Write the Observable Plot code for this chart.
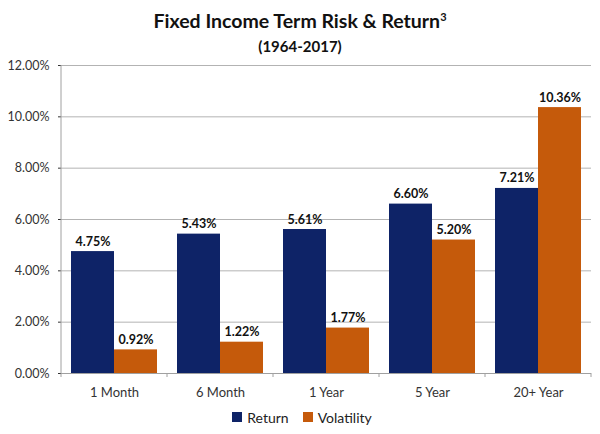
<!DOCTYPE html>
<html>
<head>
<meta charset="utf-8">
<script src="https://cdn.jsdelivr.net/npm/d3@7"></script>
<script src="https://cdn.jsdelivr.net/npm/@observablehq/plot@0.6"></script>
<style>
  body { margin: 0; background: #fff; font-family: Lato, "Open Sans", sans-serif; }
  #wrap { width: 600px; }
  .title { text-align: center; font-weight: bold; font-size: 19.5px; color: #111; padding-top: 7px; line-height: 28px; height: 28px; }
  .title sup { font-size: 11px; vertical-align: 7px; line-height: 0; }
  .subtitle { text-align: center; font-weight: bold; font-size: 15px; color: #111; line-height: 22px; height: 22px; }
  .legend { display: flex; justify-content: center; align-items: center; height: 34px; font-size: 14px; color: #222; padding-left: 4px; }
  .legend .item { display: flex; align-items: center; margin: 0 7px; }
  .legend .sw { width: 10px; height: 10px; margin-right: 5px; }
  svg { display: block; }
</style>
</head>
<body>
<div id="wrap">
  <div class="title">Fixed Income Term Risk &amp; Return<sup>3</sup></div>
  <div class="subtitle">(1964-2017)</div>
  <div id="chart"></div>
  <div class="legend" id="legend"></div>
</div>
<script>
const categories = ["1 Month", "6 Month", "1 Year", "5 Year", "20+ Year"];
const seriesNames = ["Return", "Volatility"];
const returns = [4.75, 5.43, 5.61, 6.60, 7.21];
const volatility = [0.92, 1.22, 1.77, 5.20, 10.36];
const yTicks = [0, 2, 4, 6, 8, 10, 12];
const colors = ["#0e2367", "#c55a0b"];

const data = categories.flatMap((c, i) => [
  {category: c, series: seriesNames[0], value: returns[i]},
  {category: c, series: seriesNames[1], value: volatility[i]}
]);

const fmt = d => d.toFixed(2) + "%";

const chart = Plot.plot({
  width: 600,
  height: 343,
  marginTop: 8,
  marginBottom: 27,
  marginLeft: 60,
  marginRight: 9,
  style: {fontFamily: "Lato, 'Open Sans', sans-serif", fontSize: "12.5px", color: "#333", background: "#fff"},
  fx: {domain: categories, paddingInner: 0, paddingOuter: 0, label: null, tickSize: 0, tickPadding: 14},
  x: {domain: seriesNames, paddingInner: 0, paddingOuter: 0.21, axis: null},
  y: {domain: [0, 12], ticks: yTicks, tickFormat: fmt, tickSize: 3, tickPadding: 9, label: null},
  color: {domain: seriesNames, range: colors},
  marks: [
    Plot.ruleY(yTicks, {stroke: "#b3b3b3", strokeWidth: 1}),
    Plot.barY(data, {fx: "category", x: "series", y: "value", fill: "series"}),
    Plot.ruleY([0], {stroke: "#a0a0a0", strokeWidth: 1}),
    Plot.text(data, {fx: "category", x: "series", y: "value", text: d => fmt(d.value),
      dy: -6, lineAnchor: "bottom", fontWeight: "bold", fontSize: 12.5, fill: "#111"})
  ]
});

// y-axis line and category boundary ticks, drawn from the plot's own scales
const fxS = chart.scale("fx");
const yS = chart.scale("y");
const svg = d3.select(chart);
svg.selectAll("g[aria-label='fx-axis tick label'] text, g[aria-label='fx-axis tick label']").attr("font-size", 13);
const y0 = yS.apply(0), yTop = yS.apply(12);
const x0 = fxS.apply(categories[0]);
svg.append("line").attr("x1", x0).attr("x2", x0).attr("y1", yTop).attr("y2", y0)
  .attr("stroke", "#a0a0a0").attr("stroke-width", 1);
const bounds = categories.map(c => fxS.apply(c)).concat([fxS.apply(categories[categories.length - 1]) + fxS.bandwidth]);
bounds.forEach(b => {
  svg.append("line").attr("x1", b).attr("x2", b).attr("y1", y0).attr("y2", y0 + 4)
    .attr("stroke", "#a0a0a0").attr("stroke-width", 1);
});

document.getElementById("chart").append(chart);

const legend = document.getElementById("legend");
seriesNames.forEach((s, i) => {
  const item = document.createElement("div");
  item.className = "item";
  const sw = document.createElement("span");
  sw.className = "sw";
  sw.style.background = colors[i];
  const t = document.createElement("span");
  t.textContent = s;
  item.append(sw, t);
  legend.append(item);
});
</script>
</body>
</html>
